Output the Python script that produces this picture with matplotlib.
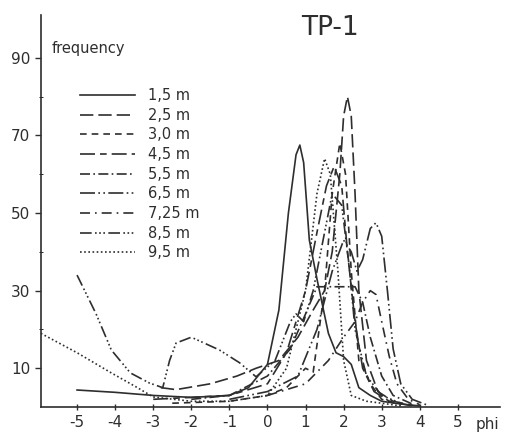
import matplotlib
matplotlib.use("Agg")
import matplotlib.pyplot as plt
from matplotlib.lines import Line2D

plt.rcParams["axes.unicode_minus"] = False

# depth labels and read-off curves (phi, frequency)
depths = ["1,5 m", "2,5 m", "3,0 m", "4,5 m", "5,5 m", "6,5 m", "7,25 m", "8,5 m", "9,5 m"]

phi_15 = [-5, -4, -3, -2, -1, -0.5, 0, 0.3, 0.55, 0.75, 0.85, 0.95, 1.1, 1.3, 1.6, 1.8, 2.0, 2.2, 2.4, 2.7, 3.0, 3.5, 4.0]
f_15 = [4.4, 3.8, 3.0, 2.5, 3.0, 5, 11, 25, 50, 65, 67.5, 63, 43, 33, 19, 14, 13, 11, 5, 3, 1.5, 0.8, 0.3]

phi_25 = [-2.8, -2.4, -1.5, -0.8, -0.3, 0.3, 0.8, 1.2, 1.5, 1.7, 1.9, 2.0, 2.1, 2.2, 2.3, 2.4, 2.6, 2.9, 3.3, 3.8]
f_25 = [5, 4.5, 6, 8, 10, 12, 18, 25, 30, 40, 60, 75, 80, 75, 55, 30, 12, 4, 1.5, 0.5]

phi_30 = [-2.5, -1, 0, 0.5, 0.8, 1.0, 1.2, 1.5, 1.7, 1.9, 2.05, 2.2, 2.4, 2.5, 2.7, 3.0, 3.5]
f_30 = [1, 1.5, 3, 5, 8, 10, 9, 30, 55, 68, 60, 35, 12, 11, 6, 2, 0.5]

phi_45 = [-3, -1, 0, 0.5, 1.0, 1.3, 1.55, 1.75, 1.95, 2.1, 2.3, 2.5, 2.8, 3.2, 3.8]
f_45 = [2, 3, 6, 14, 30, 45, 57, 62, 57, 40, 22, 10, 4, 1.5, 0.3]

phi_55 = [-2, -1, 0, 0.6, 1.0, 1.3, 1.6, 2.0, 2.3, 2.5, 2.7, 3.0, 3.3, 3.8]
f_55 = [2, 3, 8, 15, 24, 31, 31, 31, 31, 27, 18, 8, 3, 0.8]

phi_65 = [-1, 0, 0.8, 1.3, 1.7, 2.0, 2.2, 2.35, 2.5, 2.7, 2.85, 3.0, 3.15, 3.3, 3.5, 3.8, 4.2]
f_65 = [2, 4, 8, 20, 35, 43, 40, 35, 38, 46, 47.5, 44, 30, 15, 6, 2, 0.5]

phi_725 = [0, 1.0, 1.6, 2.0, 2.3, 2.5, 2.7, 2.85, 3.0, 3.2, 3.4, 3.7, 4.0]
f_725 = [3, 6, 12, 18, 22, 27, 30, 29, 22, 13, 6, 2, 0.6]

phi_85 = [-5, -4.5, -4.1, -3.6, -3.1, -2.75, -2.57, -2.4, -2.0, -1.26, -0.73, -0.3, 0.2, 0.6, 0.75, 0.95, 1.2, 1.5, 1.7, 1.95, 2.15, 2.3, 2.6, 3.0, 3.5]
f_85 = [34, 24, 14.7, 8.8, 6.2, 5, 12, 16.5, 18, 14.7, 11.4, 7.8, 12, 22, 24, 22, 30, 45, 55, 52, 36, 20, 8, 3, 1]

phi_95 = [-5.95, -5, -4.1, -3.45, -3, -2, -1, 0, 0.5, 1.0, 1.3, 1.5, 1.65, 1.85, 2.0, 2.2, 2.6, 3.0, 3.5]
f_95 = [19, 14, 8.8, 5.2, 2.6, 1.5, 1.5, 3, 10, 30, 55, 64, 60, 35, 12, 3, 1.5, 1, 0.3]

series = [(phi_15, f_15), (phi_25, f_25), (phi_30, f_30), (phi_45, f_45), (phi_55, f_55),
          (phi_65, f_65), (phi_725, f_725), (phi_85, f_85), (phi_95, f_95)]
styles = ["-", (0, (8, 3)), (0, (4, 3)), (0, (9, 3, 4, 3)), (0, (6, 2, 1, 2)),
          (0, (9, 2, 1, 2, 1, 2)), (0, (6, 3, 1, 3)), (0, (7, 2, 1, 1.5, 1, 1.5, 1, 2)), (0, (1, 1.5))]

ink = "#2e2e2e"
fig = plt.figure(figsize=(5.11, 4.42), dpi=100)
ax = fig.add_axes([0.080, 0.079, 0.898, 0.887])

for (px, fy), ls in zip(series, styles):
    ax.plot(px, fy, color=ink, linestyle=ls, linewidth=1.2)

ax.set_xlim(-5.95, 6.1)
ax.set_ylim(0, 101)
ax.set_xticks(range(-5, 6))
ax.set_yticks([10, 30, 50, 70, 90])
ax.set_yticks([20, 40, 60, 80], minor=True)
ax.tick_params(axis="both", labelsize=11, colors=ink, length=4, width=1)
ax.tick_params(axis="x", direction="inout", length=5)
ax.tick_params(axis="y", which="minor", length=3, direction="inout")
for s in ["top", "right"]:
    ax.spines[s].set_visible(False)
for s in ["left", "bottom"]:
    ax.spines[s].set_color(ink)
    ax.spines[s].set_linewidth(1.2)

handles = [Line2D([0], [0], color=ink, linestyle=ls, linewidth=1.2) for ls in styles]
ax.legend(handles, depths, loc="upper left", bbox_to_anchor=(0.056, 0.847), frameon=False,
          fontsize=10.5, handlelength=3.8, handletextpad=0.9, labelspacing=0.32,
          labelcolor=ink)

fig.text(52 / 511, 1 - 48 / 442, "frequency", fontsize=10.5, color=ink, va="center")
fig.text(476 / 511, 1 - 425 / 442, "phi", fontsize=11, color=ink, va="center")
fig.text(330 / 511, 1 - 28 / 442, "TP-1", fontsize=19, color=ink, ha="center", va="center")

fig.savefig("out.png", dpi=100)
